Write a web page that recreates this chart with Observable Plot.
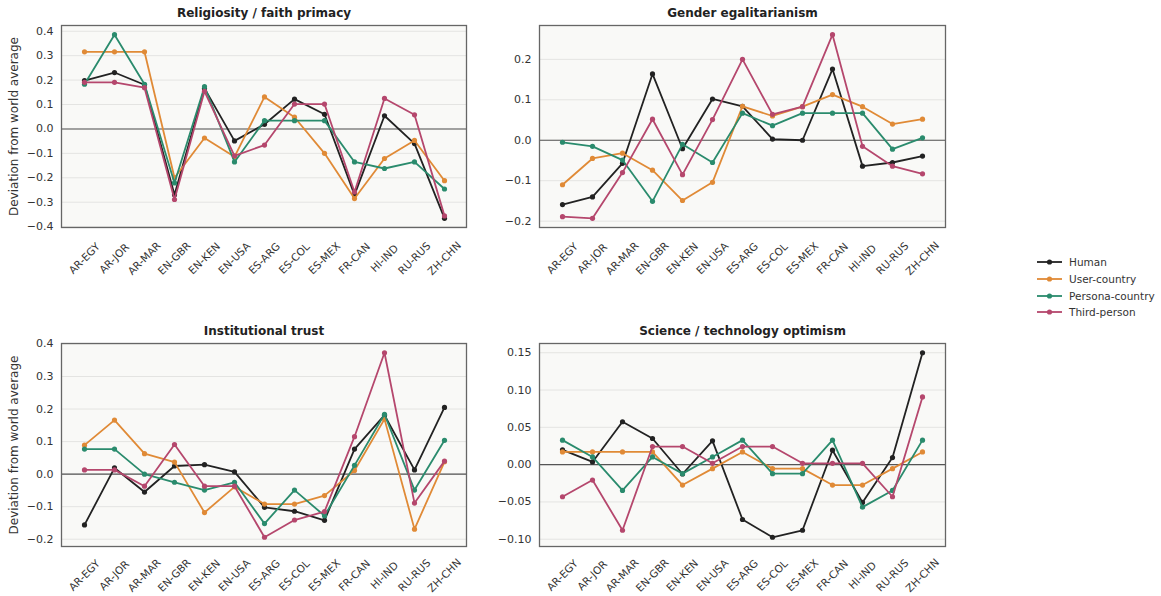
<!DOCTYPE html>
<html>
<head>
<meta charset="utf-8">
<script src="https://cdn.jsdelivr.net/npm/d3@7"></script>
<script src="https://cdn.jsdelivr.net/npm/@observablehq/plot@0.6"></script>
<style>
  body { margin: 0; background: #fff; font-family: "DejaVu Sans", sans-serif; }
  #wrap { position: relative; width: 1161px; height: 596px; overflow: hidden; }
  .panel { position: absolute; }
  #legend { position: absolute; left: 1036px; top: 254px; font-size: 10.5px; color: #333; }
  #legend .row { display: flex; align-items: center; height: 16.7px; }
  #legend svg { margin-right: 6px; }
</style>
</head>
<body>
<div id="wrap"></div>
<script>
// Cultures along the x axis
const cultures = ["AR-EGY", "AR-JOR", "AR-MAR", "EN-GBR", "EN-KEN", "EN-USA", "ES-ARG",
                  "ES-COL", "ES-MEX", "FR-CAN", "HI-IND", "RU-RUS", "ZH-CHN"];

const seriesNames = ["Human", "User-country", "Persona-country", "Third-person"];
const seriesColors = ["#222222", "#e08a36", "#2a8b6d", "#b5476d"];

// Religiosity / faith primacy
const religiosityHuman   = [0.198, 0.231, 0.181, -0.269, 0.166, -0.049, 0.019, 0.122, 0.060, -0.270, 0.054, -0.060, -0.366];
const religiosityUser    = [0.316, 0.316, 0.316, -0.200, -0.037, -0.114, 0.131, 0.048, -0.100, -0.285, -0.121, -0.047, -0.212];
const religiosityPersona = [0.183, 0.386, 0.183, -0.221, 0.173, -0.135, 0.034, 0.034, 0.034, -0.135, -0.162, -0.135, -0.246];
const religiosityThird   = [0.191, 0.191, 0.169, -0.289, 0.154, -0.110, -0.066, 0.102, 0.102, -0.258, 0.125, 0.058, -0.356];

// Gender egalitarianism
const genderHuman   = [-0.159, -0.140, -0.057, 0.164, -0.021, 0.102, 0.084, 0.003, 0.000, 0.176, -0.064, -0.055, -0.039];
const genderUser    = [-0.110, -0.045, -0.032, -0.074, -0.149, -0.104, 0.084, 0.060, 0.083, 0.113, 0.083, 0.040, 0.052];
const genderPersona = [-0.005, -0.015, -0.049, -0.151, -0.010, -0.055, 0.067, 0.036, 0.067, 0.067, 0.067, -0.022, 0.006];
const genderThird   = [-0.189, -0.193, -0.080, 0.052, -0.085, 0.051, 0.200, 0.064, 0.083, 0.261, -0.015, -0.064, -0.083];

// Institutional trust
const trustHuman   = [-0.156, 0.019, -0.055, 0.025, 0.029, 0.007, -0.102, -0.114, -0.142, 0.077, 0.181, 0.013, 0.205];
const trustUser    = [0.089, 0.166, 0.063, 0.037, -0.118, -0.039, -0.092, -0.092, -0.066, 0.011, 0.169, -0.169, 0.038];
const trustPersona = [0.077, 0.077, 0.000, -0.025, -0.049, -0.025, -0.152, -0.049, -0.128, 0.027, 0.184, -0.049, 0.104];
const trustThird   = [0.013, 0.013, -0.037, 0.091, -0.037, -0.037, -0.194, -0.141, -0.115, 0.115, 0.373, -0.089, 0.040];

// Science / technology optimism
const scienceHuman   = [0.0198, 0.0036, 0.0575, 0.0350, -0.0126, 0.0319, -0.0736, -0.0974, -0.0880, 0.0193, -0.0507, 0.0094, 0.1500];
const scienceUser    = [0.0170, 0.0170, 0.0170, 0.0170, -0.0274, -0.0054, 0.0170, -0.0054, -0.0054, -0.0274, -0.0274, -0.0054, 0.0170];
const sciencePersona = [0.0328, 0.0103, -0.0346, 0.0103, -0.0121, 0.0103, 0.0328, -0.0121, -0.0121, 0.0328, -0.0570, -0.0346, 0.0328];
const scienceThird   = [-0.0431, -0.0207, -0.0880, 0.0242, 0.0242, 0.0018, 0.0242, 0.0242, 0.0018, 0.0018, 0.0018, -0.0431, 0.0907];

// Y tick values per panel
const religiosityTicks = [-0.4, -0.3, -0.2, -0.1, 0, 0.1, 0.2, 0.3, 0.4];
const genderTicks      = [-0.2, -0.1, 0, 0.1, 0.2];
const trustTicks       = [-0.2, -0.1, 0, 0.1, 0.2, 0.3, 0.4];
const scienceTicks     = [-0.10, -0.05, 0, 0.05, 0.10, 0.15];

const yLabel = "Deviation from world average";

const panels = [
  {title: "Religiosity / faith primacy", series: [religiosityHuman, religiosityUser, religiosityPersona, religiosityThird],
   ticks: religiosityTicks, fmt: ".1f", left: 0, top: 0, width: 470, height: 300, mt: 25, mb: 73, ml: 61, mr: 4, ylabel: true, xdy: 31},
  {title: "Gender egalitarianism", series: [genderHuman, genderUser, genderPersona, genderThird],
   ticks: genderTicks, fmt: ".1f", left: 470, top: 0, width: 480, height: 300, mt: 25, mb: 73, ml: 69, mr: 5, ylabel: false, xdy: 31},
  {title: "Institutional trust", series: [trustHuman, trustUser, trustPersona, trustThird],
   ticks: trustTicks, fmt: ".1f", left: 0, top: 300, width: 470, height: 296, mt: 43, mb: 50, ml: 61, mr: 4, ylabel: true, xdy: 29},
  {title: "Science / technology optimism", series: [scienceHuman, scienceUser, sciencePersona, scienceThird],
   ticks: scienceTicks, fmt: ".2f", left: 470, top: 300, width: 480, height: 296, mt: 43, mb: 50, ml: 69, mr: 5, ylabel: false, xdy: 29}
];

const wrap = document.getElementById("wrap");

for (const p of panels) {
  const all = p.series.flat();
  const lo = d3.min(all), hi = d3.max(all), pad = (hi - lo) * 0.05;

  const marks = [
    Plot.frame({fill: "#f9f9f7", stroke: null}),
    Plot.ruleY(p.ticks, {stroke: "#e4e4e2", strokeWidth: 1}),
    Plot.ruleY([0], {stroke: "#555", strokeWidth: 1.1}),
  ];

  p.series.forEach((values, i) => {
    const rows = values.map((v, j) => ({culture: cultures[j], value: v, series: seriesNames[i]}));
    marks.push(Plot.line(rows, {x: "culture", y: "value", stroke: "series", strokeWidth: 1.8}));
    marks.push(Plot.dot(rows, {x: "culture", y: "value", fill: "series", r: 2.6, stroke: null}));
  });

  marks.push(
    Plot.frame({stroke: "#666", strokeWidth: 1.3}),
    Plot.axisY({ticks: p.ticks, tickFormat: d3.format(p.fmt), tickSize: 0, tickPadding: 8,
                fontSize: 11, fill: "#333", label: null}),
    Plot.text(cultures, {x: d => d, text: d => d, frameAnchor: "bottom", dy: p.xdy, rotate: -45,
                         textAnchor: "middle", lineAnchor: "middle", fontSize: 10.5, fill: "#333"}),
    Plot.text([p.title], {text: d => d, frameAnchor: "top", dy: -12, lineAnchor: "middle",
                          fontSize: 12, fontWeight: "bold", fill: "#222"})
  );
  if (p.ylabel) {
    marks.push(Plot.text([yLabel], {text: d => d, frameAnchor: "left", dx: -47, rotate: -90,
                                    textAnchor: "middle", lineAnchor: "middle", fontSize: 12, fill: "#333"}));
  }

  const chart = Plot.plot({
    width: p.width,
    height: p.height,
    marginTop: p.mt, marginBottom: p.mb, marginLeft: p.ml, marginRight: p.mr,
    style: {fontFamily: "DejaVu Sans, sans-serif", background: "transparent", overflow: "visible", color: "#333"},
    x: {type: "point", domain: cultures, padding: 0.6, axis: null},
    y: {domain: [lo - pad, hi + pad], axis: null},
    color: {domain: seriesNames, range: seriesColors},
    marks
  });
  chart.classList.add("panel");
  chart.style.left = p.left + "px";
  chart.style.top = p.top + "px";
  wrap.appendChild(chart);
}

// Legend
const legend = document.createElement("div");
legend.id = "legend";
seriesNames.forEach((name, i) => {
  const row = document.createElement("div");
  row.className = "row";
  row.innerHTML = `<svg width="27" height="10"><line x1="1" y1="5" x2="26" y2="5" stroke="${seriesColors[i]}" stroke-width="1.8"/>` +
                  `<circle cx="13.5" cy="5" r="2.6" fill="${seriesColors[i]}"/></svg><span>${name}</span>`;
  legend.appendChild(row);
});
wrap.appendChild(legend);
</script>
</body>
</html>
